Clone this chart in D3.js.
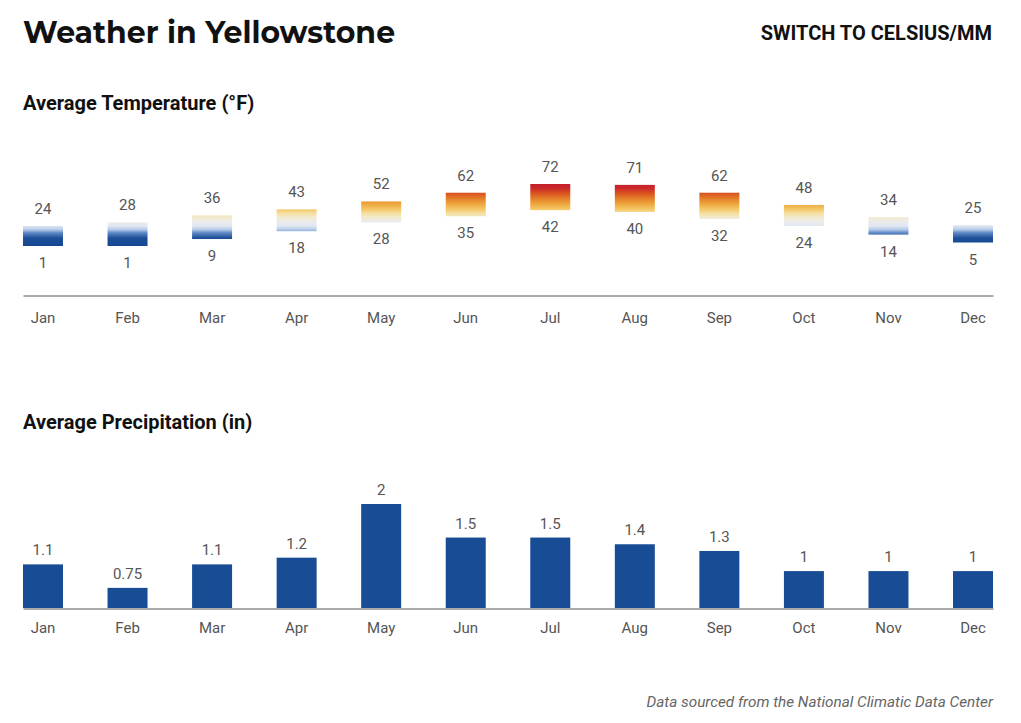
<!DOCTYPE html>
<html>
<head>
<meta charset="utf-8">
<script src="https://cdn.jsdelivr.net/npm/d3@7"></script>
<style>
  html, body { margin: 0; padding: 0; background: #fff; }
  svg { display: block; }
</style>
</head>
<body>
<svg id="chart" width="1021" height="723"></svg>
<script>
const months = ["Jan","Feb","Mar","Apr","May","Jun","Jul","Aug","Sep","Oct","Nov","Dec"];
const tempHigh = [24, 28, 36, 43, 52, 62, 72, 71, 62, 48, 34, 25];
const tempLow  = [1, 1, 9, 18, 28, 35, 42, 40, 32, 24, 14, 5];
const precip   = [1.1, 0.75, 1.1, 1.2, 2, 1.5, 1.5, 1.4, 1.3, 1, 1, 1];
const precipLabels = ["1.1","0.75","1.1","1.2","2","1.5","1.5","1.4","1.3","1","1","1"];
const tempStops = [
  [0, "#164690"], [10, "#1c4e97"], [16, "#5d87c5"], [20, "#b9cde9"], [24, "#e0e7f1"],
  [29, "#ebebea"], [34, "#f2eacd"], [38, "#f5e0a4"], [44, "#f3c35e"], [50, "#eca23a"],
  [56, "#e47a26"], [62, "#d84f20"], [67, "#ca2a2a"], [72, "#c41f2d"]
];

const svg = d3.select("#chart");
const font = "Roboto, 'Noto Sans', sans-serif";
const labelColor = "#555";

// Titles
svg.append("text").attr("x", 23).attr("y", 42.5)
  .attr("font-family", "Montserrat, Inter, 'Open Sans', sans-serif")
  .attr("font-weight", 700).attr("font-size", 30).attr("fill", "#111")
  .attr("textLength", 372).attr("lengthAdjust", "spacingAndGlyphs")
  .text("Weather in Yellowstone");
svg.append("text").attr("x", 992).attr("y", 39.5).attr("text-anchor", "end")
  .attr("font-family", font).attr("font-weight", 700).attr("font-size", 20).attr("fill", "#111")
  .text("SWITCH TO CELSIUS/MM");
svg.append("text").attr("x", 23).attr("y", 110)
  .attr("font-family", font).attr("font-weight", 700).attr("font-size", 20).attr("fill", "#111")
  .text("Average Temperature (°F)");
svg.append("text").attr("x", 23).attr("y", 429)
  .attr("font-family", font).attr("font-weight", 700).attr("font-size", 20).attr("fill", "#111")
  .text("Average Precipitation (in)");
svg.append("text").attr("x", 993).attr("y", 707).attr("text-anchor", "end")
  .attr("font-family", font).attr("font-style", "italic").attr("font-size", 15.3).attr("fill", "#666")
  .text("Data sourced from the National Climatic Data Center");

const x = d3.scaleBand().domain(months).range([23, 993]).paddingInner(0.527).paddingOuter(0);

// Temperature chart
const yT = d3.scaleLinear().domain([1, 72]).range([246, 184]);
const defs = svg.append("defs");
const grad = defs.append("linearGradient").attr("id", "tempGrad")
  .attr("gradientUnits", "userSpaceOnUse")
  .attr("x1", 0).attr("x2", 0).attr("y1", yT(0)).attr("y2", yT(72));
grad.selectAll("stop").data(tempStops).join("stop")
  .attr("offset", d => d[0] / 72).attr("stop-color", d => d[1]);

const gT = svg.append("g");
gT.selectAll("rect").data(months).join("rect")
  .attr("x", d => x(d))
  .attr("width", x.bandwidth())
  .attr("y", (d, i) => yT(tempHigh[i]))
  .attr("height", (d, i) => yT(tempLow[i]) - yT(tempHigh[i]))
  .attr("fill", "url(#tempGrad)");
gT.selectAll("text.hi").data(months).join("text").attr("class", "hi")
  .attr("x", d => x(d) + x.bandwidth() / 2)
  .attr("y", (d, i) => yT(tempHigh[i]) - 12)
  .attr("text-anchor", "middle").attr("font-family", font).attr("font-size", 15).attr("fill", labelColor)
  .text((d, i) => tempHigh[i]);
gT.selectAll("text.lo").data(months).join("text").attr("class", "lo")
  .attr("x", d => x(d) + x.bandwidth() / 2)
  .attr("y", (d, i) => yT(tempLow[i]) + 22)
  .attr("text-anchor", "middle").attr("font-family", font).attr("font-size", 15).attr("fill", labelColor)
  .text((d, i) => tempLow[i]);

function styleAxis(g) {
  g.select(".domain").attr("stroke", "#555").attr("stroke-width", 1);
  g.selectAll("text").attr("font-family", font).attr("font-size", 15).attr("fill", labelColor);
}
svg.append("g").attr("transform", "translate(0,295.5)")
  .call(d3.axisBottom(x).tickSize(0).tickPadding(17).tickSizeOuter(0))
  .call(styleAxis);

// Precipitation chart
const yP = d3.scaleLinear().domain([0.45, 2]).range([608, 504]);
const gP = svg.append("g");
gP.selectAll("rect").data(months).join("rect")
  .attr("x", d => x(d))
  .attr("width", x.bandwidth())
  .attr("y", (d, i) => yP(precip[i]))
  .attr("height", (d, i) => yP.range()[0] - yP(precip[i]))
  .attr("fill", "#184c95");
gP.selectAll("text").data(months).join("text")
  .attr("x", d => x(d) + x.bandwidth() / 2)
  .attr("y", (d, i) => yP(precip[i]) - 9)
  .attr("text-anchor", "middle").attr("font-family", font).attr("font-size", 15).attr("fill", labelColor)
  .text((d, i) => precipLabels[i]);
svg.append("g").attr("transform", "translate(0,608.5)")
  .call(d3.axisBottom(x).tickSize(0).tickPadding(13.5).tickSizeOuter(0))
  .call(styleAxis);
</script>
</body>
</html>
